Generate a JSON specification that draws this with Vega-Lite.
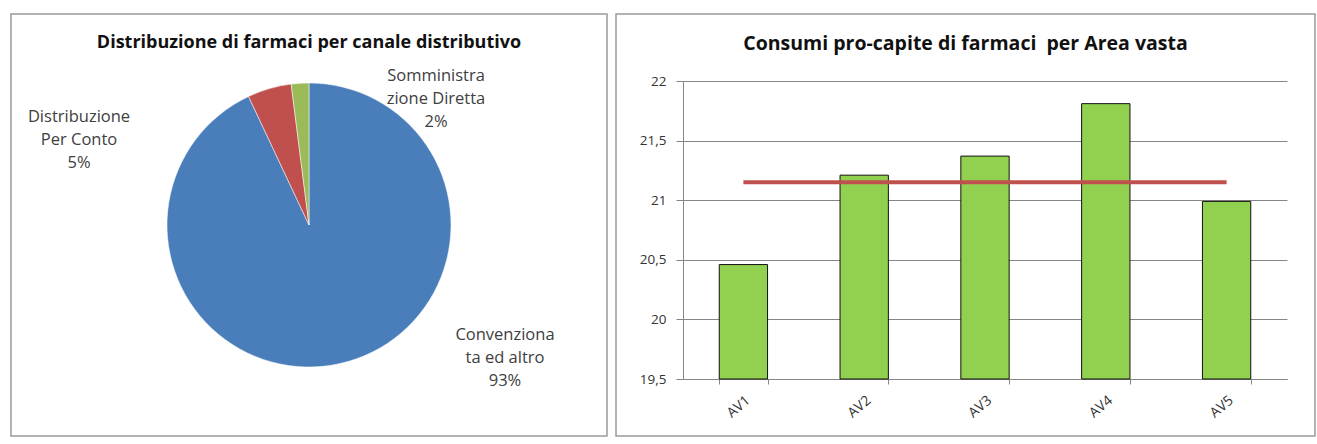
{
  "$schema": "https://vega.github.io/schema/vega-lite/v6.json",
  "padding": {"left": 10, "top": 13, "right": 0, "bottom": 0},
  "background": "white",
  "config": {
    "locale": {"number": {"decimal": ",", "thousands": ".", "grouping": [3], "currency": ["€", ""]}},
    "view": {"stroke": "#9a9a9a", "strokeWidth": 1.5},
    "font": "Open Sans",
    "concat": {"spacing": 7}
  },
  "hconcat": [
    {
      "width": 596,
      "height": 422,
      "view": {"stroke": "#9a9a9a", "strokeWidth": 1.5},
      "title": {"text": "Distribuzione di farmaci per canale distributivo", "fontSize": 18, "fontWeight": "bold", "color": "#111111", "offset": -38, "baseline": "top", "anchor": "middle", "font": "Open Sans"},
      "data": {"values": [
        {"canale": "Convenzionata ed altro", "quota": 0.93, "etichetta": "Convenziona\nta ed altro"},
        {"canale": "Distribuzione Per Conto", "quota": 0.05, "etichetta": "Distribuzione\nPer Conto"},
        {"canale": "Somministrazione Diretta", "quota": 0.02, "etichetta": "Somministra\nzione Diretta"}
      ]},
      "transform": [{"calculate": "datum.etichetta + '\\n' + format(datum.quota, '.0%')", "as": "testo"}],
      "layer": [
        {
          "mark": {"type": "arc", "outerRadius": 142, "stroke": "white", "strokeWidth": 0.5},
          "encoding": {
            "theta": {"field": "quota", "type": "quantitative", "stack": true},
            "color": {"field": "canale", "type": "nominal", "scale": {"domain": ["Convenzionata ed altro", "Distribuzione Per Conto", "Somministrazione Diretta"], "range": ["#4A7EBB", "#C0504D", "#9BBB59"]}, "legend": null}
          }
        },
        {
          "transform": [{"filter": "datum.canale === 'Convenzionata ed altro'"}],
          "mark": {"type": "text", "radius": 0, "dx": 196, "dy": 110, "lineBreak": "\n", "fontSize": 16.5, "lineHeight": 23, "color": "#404040", "baseline": "middle", "align": "center"},
          "encoding": {"theta": {"field": "quota", "type": "quantitative", "stack": true}, "text": {"field": "testo", "type": "nominal"}}
        },
        {
          "transform": [{"filter": "datum.canale === 'Distribuzione Per Conto'"}],
          "mark": {"type": "text", "radius": 0, "dx": -230, "dy": -108, "lineBreak": "\n", "fontSize": 16.5, "lineHeight": 23, "color": "#404040", "baseline": "middle", "align": "center"},
          "encoding": {"theta": {"field": "quota", "type": "quantitative", "stack": true}, "text": {"field": "testo", "type": "nominal"}}
        },
        {
          "transform": [{"filter": "datum.canale === 'Somministrazione Diretta'"}],
          "mark": {"type": "text", "radius": 0, "dx": 127, "dy": -149, "lineBreak": "\n", "fontSize": 16.5, "lineHeight": 23, "color": "#404040", "baseline": "middle", "align": "center"},
          "encoding": {"theta": {"field": "quota", "type": "quantitative", "stack": true}, "text": {"field": "testo", "type": "nominal"}}
        }
      ]
    },
    {
      "width": 699,
      "height": 422,
      "title": {"text": "Consumi pro-capite di farmaci\u00a0 per Area vasta", "fontSize": 19.5, "fontWeight": "bold", "color": "#111111", "offset": -40, "baseline": "top", "anchor": "middle", "font": "Open Sans"},
      "data": {"values": [
        {"area": "AV1", "consumo": 20.46, "media": 21.15},
        {"area": "AV2", "consumo": 21.21, "media": 21.15},
        {"area": "AV3", "consumo": 21.37, "media": 21.15},
        {"area": "AV4", "consumo": 21.81, "media": 21.15},
        {"area": "AV5", "consumo": 20.99, "media": 21.15}
      ]},
      "encoding": {
        "x": {
          "field": "area", "type": "nominal",
          "scale": {"range": [67, 671], "paddingInner": 0.6, "paddingOuter": 0.3},
          "axis": {"orient": "bottom", "offset": -57, "tickBand": "extent", "labelAngle": -40, "labelDx": -4, "domainColor": "#868686", "tickColor": "#868686", "tickSize": 5, "labelFontSize": 14, "labelColor": "#333333", "labelPadding": 9, "title": null, "grid": false}
        }
      },
      "layer": [
        {
          "mark": {"type": "bar", "fill": "#92D050", "stroke": "#111111", "strokeWidth": 1},
          "encoding": {
            "y": {
              "field": "consumo", "type": "quantitative",
              "scale": {"domain": [19.5, 22], "range": [365, 67], "nice": false, "zero": false},
              "axis": {"orient": "left", "offset": -67, "values": [19.5, 20, 20.5, 21, 21.5, 22], "format": ".1~f", "grid": true, "gridColor": "#868686", "gridWidth": 1, "domainColor": "#868686", "tickColor": "#868686", "tickSize": 7, "labelFontSize": 13.5, "labelColor": "#333333", "labelPadding": 10, "title": null}
            },
            "y2": {"datum": 19.5}
          }
        },
        {
          "mark": {"type": "line", "color": "#C0504D", "strokeWidth": 4},
          "encoding": {"y": {"field": "media", "type": "quantitative"}}
        }
      ]
    }
  ]
}
